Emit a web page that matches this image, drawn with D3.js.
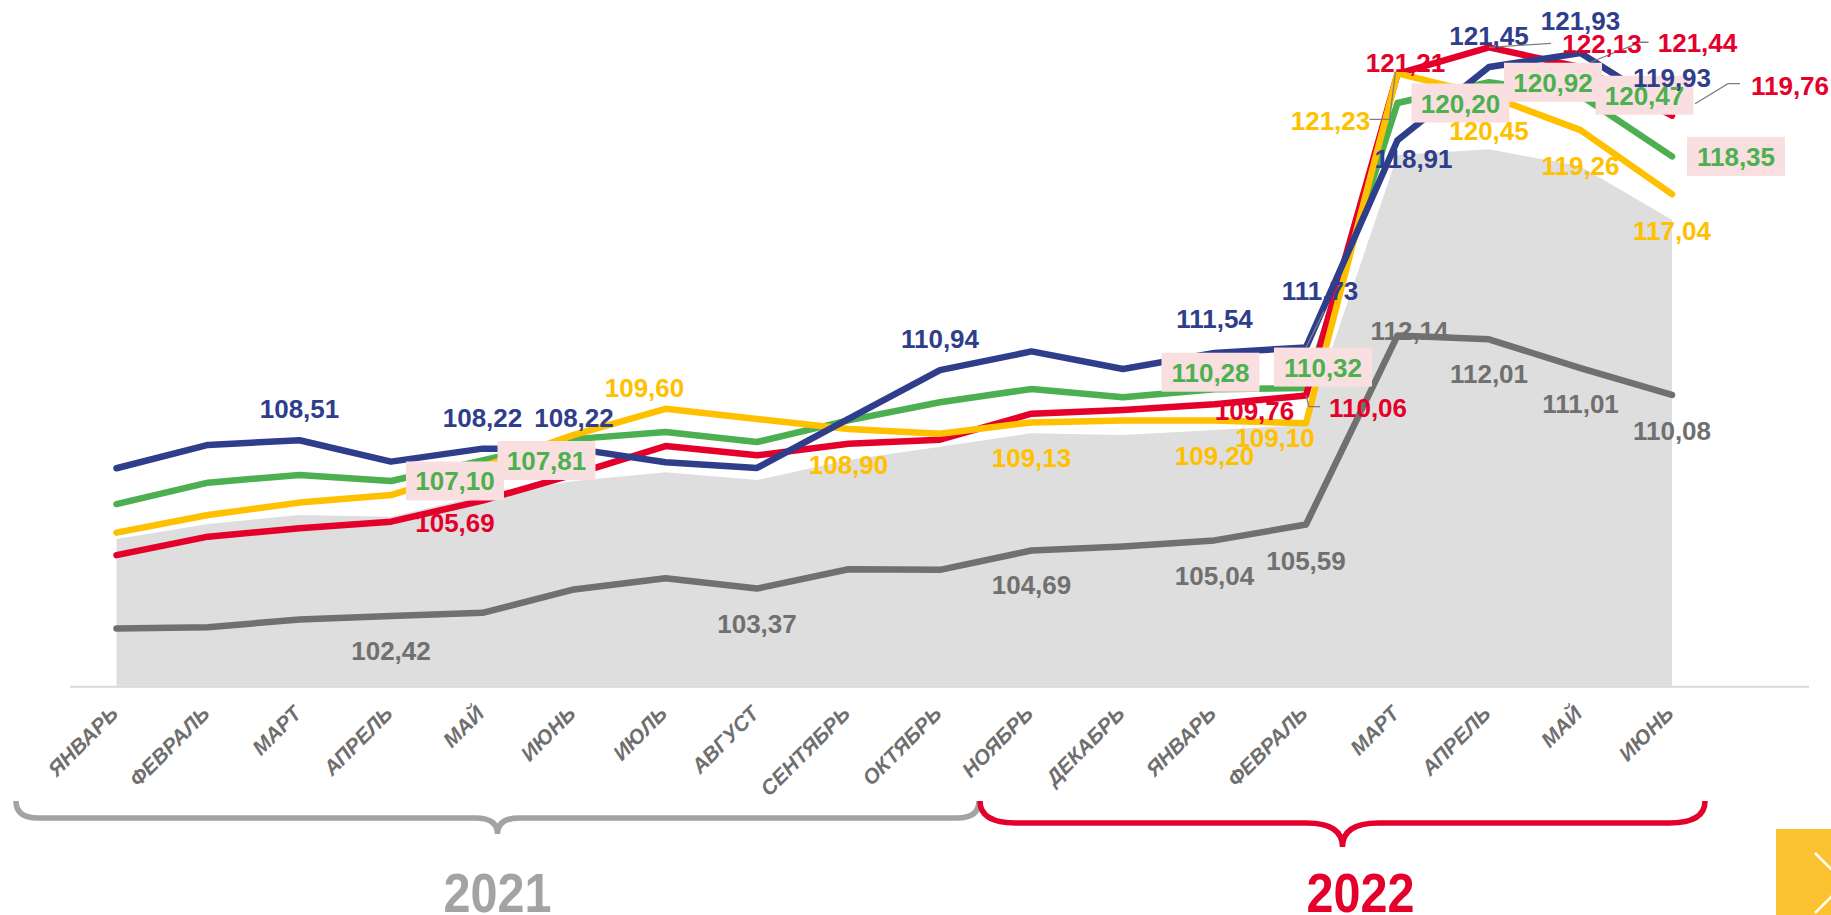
<!DOCTYPE html>
<meta charset="utf-8">
<script src="https://d3js.org/d3.v7.min.js"></script>
<style>
  body { margin: 0; background: #fff; }
  svg { display: block; }
</style>
<div id="chart"></div>
<script>

// month names on the x axis (2021: Jan..Dec, 2022: Jan..Jun)
var months = ["ЯНВАРЬ","ФЕВРАЛЬ","МАРТ","АПРЕЛЬ","МАЙ","ИЮНЬ","ИЮЛЬ","АВГУСТ","СЕНТЯБРЬ","ОКТЯБРЬ","НОЯБРЬ","ДЕКАБРЬ",
              "ЯНВАРЬ","ФЕВРАЛЬ","МАРТ","АПРЕЛЬ","МАЙ","ИЮНЬ"];

// series values
var blueVals   = [107.54, 108.35, 108.51, 107.77, 108.22, 108.22, 107.75, 107.55, 109.25, 110.94, 111.59, 110.98, 111.54, 111.73, 118.91, 121.45, 121.93, 119.93];
var redVals    = [104.53, 105.17, 105.46, 105.69, 106.42, 107.33, 108.31, 107.99, 108.39, 108.53, 109.43, 109.56, 109.76, 110.06, 121.21, 122.13, 121.44, 119.76];
var greenVals  = [106.30, 107.04, 107.31, 107.10, 107.81, 108.55, 108.80, 108.45, 109.20, 109.83, 110.29, 110.00, 110.28, 110.32, 120.20, 120.92, 120.47, 118.35];
var yellowVals = [105.31, 105.92, 106.35, 106.61, 107.60, 108.70, 109.60, 109.25, 108.90, 108.74, 109.13, 109.20, 109.20, 109.10, 121.23, 120.45, 119.26, 117.04];
var grayVals   = [101.99, 102.03, 102.30, 102.42, 102.53, 103.34, 103.73, 103.37, 104.04, 104.02, 104.69, 104.83, 105.04, 105.59, 112.14, 112.01, 111.01, 110.08];
var areaVals   = [105.09, 105.61, 105.92, 105.86, 106.60, 107.10, 107.40, 107.13, 107.83, 108.29, 108.75, 108.69, 108.87, 109.04, 118.40, 118.60, 118.00, 116.15];

// year groups under the axis: [label, first month index, last month index]
var years = [["2021", 0, 9], ["2022", 10, 17]];

// which points carry a value label: [month index, dx, dy] (layout only)
var blueLab   = [[2,0,-22],[4,0,-22],[5,0,-22],[9,0,-22],[12,0,-25],[13,14,-47],[14,16,28],[15,0,-22],[16,0,-23],[17,0,-24]];
var redLab    = [[3,64,10],[12,40,16],[13,62,21],[14,8,-2],[15,113,6],[16,117,-15],[17,118,-21]];
var greenLab  = [[3,64,0],[4,64,0],[12,-4,-17],[13,17,-21],[14,63,0],[15,64,0],[16,64,0],[17,64,0]];
var yellowLab = [[6,-21,-12],[8,0,45],[10,0,45],[12,0,45],[13,-31,24],[14,-67,57],[15,0,44],[16,0,45],[17,0,46]];
var grayLab   = [[3,0,44],[7,0,44],[10,0,44],[12,0,45],[13,0,45],[14,12,4],[15,0,44],[16,0,45],[17,0,45]];

// leader lines, offsets from the data point
var leaders = {
  "red-13":    [[0,0],[3,11],[14,11]],
  "red-15":    [[0,0],[62,-4]],
  "red-16":    [[10,-5],[60,-25],[68,-25]],
  "red-17":    [[23,-12],[56,-32],[68,-32]],
  "yellow-14": [[-2,-1],[-8,46],[-28,46]],
  "blue-13":   [[0,0],[18,-36]]
};

var W = 1831, H = 915;

var svg = d3.select("#chart").append("svg")
  .attr("width", W)
  .attr("height", H);

var x = d3.scalePoint()
  .domain(d3.range(months.length))
  .range([116.5, 1672]);

var y = d3.scaleLinear()
  .domain([100, 124])
  .range([685.8, -6.6]);

var fmt = function(v) { return d3.format(".2f")(v).replace(".", ","); };

// grey area in the background
var area = d3.area()
  .x(function(d, i) { return x(i); })
  .y0(y(100))
  .y1(function(d) { return y(d); });

svg.append("path")
  .datum(areaVals)
  .attr("d", area)
  .attr("fill", "#dedede");

// axis line
svg.append("line")
  .attr("x1", 70).attr("x2", 1809)
  .attr("y1", y(100) + 1).attr("y2", y(100) + 1)
  .attr("stroke", "#d9d9d9")
  .attr("stroke-width", 2);

// lines
var series = [
  {name: "gray",   vals: grayVals,   color: "#707070", labs: grayLab},
  {name: "green",  vals: greenVals,  color: "#4caf50", labs: greenLab, boxed: true},
  {name: "red",    vals: redVals,    color: "#e4002b", labs: redLab},
  {name: "yellow", vals: yellowVals, color: "#ffc000", labs: yellowLab},
  {name: "blue",   vals: blueVals,   color: "#2f3e8b", labs: blueLab}
];

var line = d3.line()
  .x(function(d, i) { return x(i); })
  .y(function(d) { return y(d); });

svg.append("g").selectAll("path")
  .data(series)
  .enter().append("path")
    .attr("d", function(s) { return line(s.vals); })
    .attr("fill", "none")
    .attr("stroke", function(s) { return s.color; })
    .attr("stroke-width", 6.5)
    .attr("stroke-linejoin", "round")
    .attr("stroke-linecap", "round");

// leader lines
var lg = svg.append("g");
series.forEach(function(s) {
  s.labs.forEach(function(l) {
    var pts = leaders[s.name + "-" + l[0]];
    if (!pts) return;
    var px = x(l[0]), py = y(s.vals[l[0]]);
    lg.append("polyline")
      .attr("points", pts.map(function(p) { return (px + p[0]) + "," + (py + p[1]); }).join(" "))
      .attr("fill", "none")
      .attr("stroke", "#7f7f7f")
      .attr("stroke-width", 1.3);
  });
});

// value labels
var lab = svg.append("g")
  .attr("font-family", "'Liberation Sans', Arial, sans-serif")
  .attr("font-weight", "bold")
  .attr("font-size", 26)
  .attr("text-anchor", "middle");

series.forEach(function(s) {
  s.labs.forEach(function(l) {
    var cx = x(l[0]) + l[1], cy = y(s.vals[l[0]]) + l[2];
    if (s.boxed) {
      lab.append("rect")
        .attr("x", cx - 49).attr("y", cy - 19.5)
        .attr("width", 98).attr("height", 39)
        .attr("fill", "#f9dfdf");
      lab.append("text")
        .attr("x", cx).attr("y", cy + 9.5)
        .attr("fill", s.color)
        .text(fmt(s.vals[l[0]]));
    } else {
      lab.append("text")
        .attr("x", cx).attr("y", cy)
        .attr("fill", s.color)
        .text(fmt(s.vals[l[0]]));
    }
  });
});

// month labels
svg.append("g")
  .selectAll("text")
  .data(months)
  .enter().append("text")
    .attr("transform", function(d, i) { return "translate(" + (x(i) + 3) + ",715) rotate(-45)"; })
    .attr("text-anchor", "end")
    .attr("font-family", "'Liberation Sans', Arial, sans-serif")
    .attr("font-weight", "bold")
    .attr("font-style", "italic")
    .attr("font-size", 21)
    .attr("fill", "#6f6f6f")
    .text(function(d) { return d; });

// year braces
function brace(x0, x1, top, mid, tip, r) {
  var xm = (x0 + x1) / 2;
  return "M" + x0 + "," + top +
    " Q" + x0 + "," + mid + " " + (x0 + r) + "," + mid +
    " L" + (xm - r) + "," + mid +
    " Q" + xm + "," + mid + " " + xm + "," + tip +
    " Q" + xm + "," + mid + " " + (xm + r) + "," + mid +
    " L" + (x1 - r) + "," + mid +
    " Q" + x1 + "," + mid + " " + x1 + "," + top;
}

var yearColor = {"2021": "#a3a3a3", "2022": "#e4002b"};
var braceX = {"2021": [16, 979], "2022": [980, 1705]};
var braceY = {"2021": [801, 818, 834, 22], "2022": [801, 823, 847, 36]};

years.forEach(function(yr) {
  var bx = braceX[yr[0]], by = braceY[yr[0]];
  svg.append("path")
    .attr("d", brace(bx[0], bx[1], by[0], by[1], by[2], by[3]))
    .attr("fill", "none")
    .attr("stroke", yearColor[yr[0]])
    .attr("stroke-width", 5.5);
  svg.append("text")
    .attr("x", (bx[0] + bx[1]) / 2 + (yr[0] == "2022" ? 18 : 0))
    .attr("y", 912)
    .attr("text-anchor", "middle")
    .attr("font-family", "'Liberation Sans Narrow', 'Liberation Sans', Arial, sans-serif")
    .attr("font-weight", "bold")
    .attr("font-size", 56)
    .attr("textLength", 108)
    .attr("lengthAdjust", "spacingAndGlyphs")
    .attr("fill", yearColor[yr[0]])
    .text(yr[0]);
});

// yellow corner button
svg.append("rect")
  .attr("x", 1776).attr("y", 829)
  .attr("width", 60).attr("height", 90)
  .attr("fill", "#fbc12e");
svg.append("polyline")
  .attr("points", "1815,853 1845,883 1815,913")
  .attr("fill", "none")
  .attr("stroke", "#fff")
  .attr("stroke-width", 2.5);

</script>
